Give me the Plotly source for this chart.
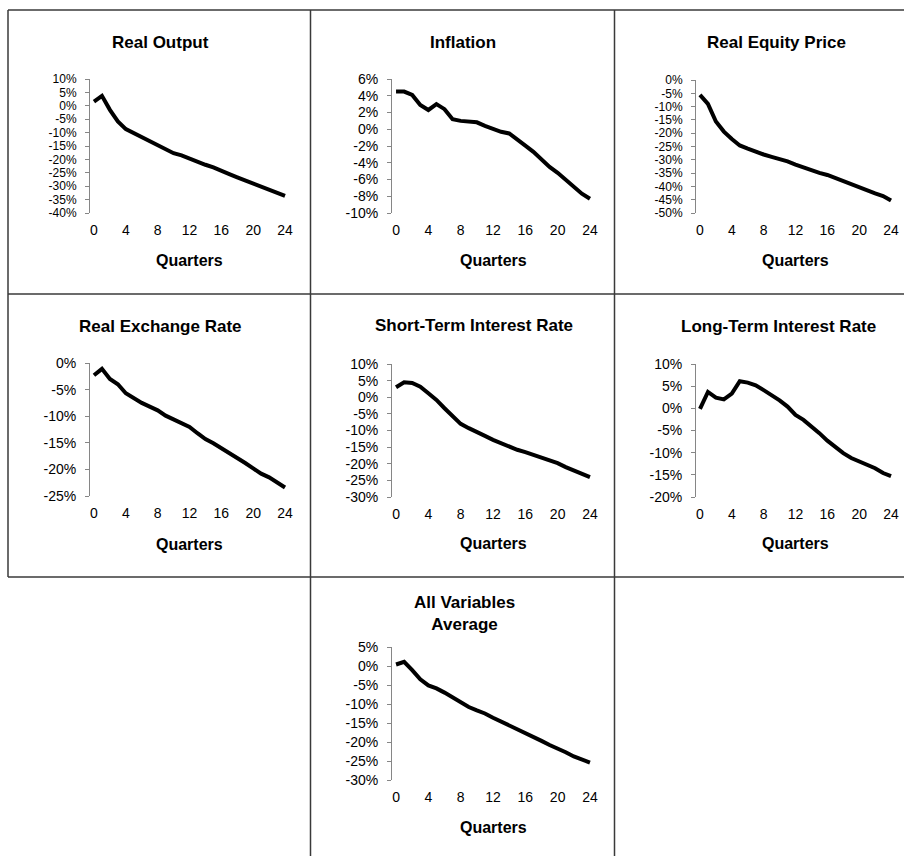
import plotly.graph_objects as go

# ---------------- data ----------------
quarters = list(range(25))
x_tick_vals = [0, 4, 8, 12, 16, 20, 24]
x_tick_labels = ["0", "4", "8", "12", "16", "20", "24"]
boundary_ticks = [-0.5, 3.5, 7.5, 11.5, 15.5, 19.5, 23.5, 24.5]

titles = ["Real Output", "Inflation", "Real Equity Price",
          "Real Exchange Rate", "Short-Term Interest Rate", "Long-Term Interest Rate",
          "All Variables<br>Average"]

real_output = [1.6, 3.7, -1.5, -5.8, -8.7, -10.2, -11.7, -13.3, -14.8, -16.4, -17.7, -18.5, -19.8,
               -21.0, -22.0, -23.0, -24.1, -25.5, -26.7, -27.9, -28.9, -30.1, -31.3, -32.3, -33.6]
inflation = [4.5, 4.5, 4.1, 2.9, 2.3, 3.0, 2.4, 1.2, 1.0, 0.87, 0.83, 0.4, 0.0,
             -0.3, -0.5, -1.3, -1.95, -2.7, -3.6, -4.5, -5.2, -6.0, -6.9, -7.7, -8.3]
real_equity = [-5.6, -9.0, -15.6, -19.4, -22.2, -24.6, -25.8, -27.0, -28.0, -28.9, -29.7, -30.6, -31.8,
               -32.9, -34.0, -34.9, -35.7, -36.9, -38.1, -39.3, -40.2, -41.4, -42.6, -43.6, -45.3]
real_exchange = [-2.3, -1.1, -3.0, -4.0, -5.7, -6.7, -7.5, -8.2, -8.9, -9.9, -10.6, -11.1, -12.0,
                 -13.2, -14.3, -15.1, -16.0, -17.0, -17.7, -18.8, -19.8, -20.8, -21.5, -22.5, -23.4]
short_rate = [3.0, 4.5, 4.3, 3.2, 1.2, -0.8, -3.3, -5.8, -8.0, -9.3, -10.3, -11.6, -12.8,
              -13.9, -15.0, -15.8, -16.5, -17.3, -18.2, -19.0, -19.8, -21.0, -22.0, -23.0, -24.0]
long_rate = [-0.1, 3.7, 2.4, 2.0, 3.3, 6.1, 5.8, 5.2, 4.1, 3.0, 1.8, 0.4, -1.5,
             -2.6, -4.0, -5.6, -7.3, -8.8, -10.1, -11.2, -12.0, -12.6, -13.5, -14.6, -15.3]
all_average = [0.4, 1.1, -1.1, -3.5, -5.1, -5.9, -7.0, -8.3, -9.6, -10.8, -11.7, -12.5, -13.6,
               -14.6, -15.5, -16.5, -17.5, -18.7, -19.7, -20.8, -21.7, -22.7, -23.8, -24.6, -25.4]

series = [real_output, inflation, real_equity, real_exchange, short_rate, long_rate, all_average]

y_ticks_real_output = [10, 5, 0, -5, -10, -15, -20, -25, -30, -35, -40]
y_ticks_inflation = [6, 4, 2, 0, -2, -4, -6, -8, -10]
y_ticks_real_equity = [0, -5, -10, -15, -20, -25, -30, -35, -40, -45, -50]
y_ticks_real_exchange = [0, -5, -10, -15, -20, -25]
y_ticks_short_rate = [10, 5, 0, -5, -10, -15, -20, -25, -30]
y_ticks_long_rate = [10, 5, 0, -5, -10, -15, -20]
y_ticks_all_average = [5, 0, -5, -10, -15, -20, -25, -30]
y_ticks = [y_ticks_real_output, y_ticks_inflation, y_ticks_real_equity, y_ticks_real_exchange,
           y_ticks_short_rate, y_ticks_long_rate, y_ticks_all_average]

# ---------------- layout (pixel geometry) ----------------
W, H = 904, 856
# plot area: left, right, top, bottom ; title centre ; quarters row ; y tick font size
panels = [
    dict(l=90, r=289, t=79, b=213, tx=160, ty=42, qy=260, yfs=12),
    dict(l=392, r=594, t=79, b=213, tx=463, ty=42, qy=260, yfs=14),
    dict(l=696, r=895, t=80, b=213, tx=776, ty=43, qy=260, yfs=12),
    dict(l=90, r=289, t=363, b=496, tx=160, ty=326, qy=544, yfs=14),
    dict(l=392, r=594, t=364, b=497, tx=474, ty=325, qy=543, yfs=14),
    dict(l=696, r=895, t=364, b=497, tx=778, ty=326, qy=543, yfs=14),
    dict(l=392, r=594, t=647, b=780, tx=464, ty=613, qy=827, yfs=14),
]

FONT = "Liberation Sans, Arial, sans-serif"
AXIS_GRAY = "#868686"

fig = go.Figure()
layout = dict(
    template="none",
    width=W, height=H, autosize=False,
    margin=dict(l=0, r=0, t=0, b=0, pad=0, autoexpand=False),
    paper_bgcolor="white", plot_bgcolor="white", showlegend=False,
    font=dict(family=FONT, size=14, color="black"),
)
annotations = []

def px(x):
    return x / W

def py(y):
    return 1 - y / H

for k, (p, ys, yt, ttl) in enumerate(zip(panels, series, y_ticks, titles)):
    xa = 2 * k + 1
    xb = 2 * k + 2
    ya = k + 1
    xname = "x" if xa == 1 else f"x{xa}"
    yname = "y" if ya == 1 else f"y{ya}"
    fig.add_trace(go.Scatter(x=quarters, y=ys, mode="lines",
                             line=dict(color="black", width=4),
                             xaxis=xname, yaxis=yname, hoverinfo="skip"))
    ymin, ymax = min(yt), max(yt)
    dom_y = [py(p["b"]), py(p["t"])]
    layout[f"xaxis{xa}"] = dict(
        domain=[px(p["l"]), px(p["r"])], anchor=yname, range=[-0.5, 24.5],
        showline=False, showgrid=False, zeroline=False, automargin=False,
        tickvals=x_tick_vals, ticktext=x_tick_labels,
        ticks="outside", ticklen=4, tickcolor="rgba(0,0,0,0)",
        tickfont=dict(size=14, family=FONT, color="black"),
    )
    zero_pos = dom_y[0] + (0 - ymin) / (ymax - ymin) * (dom_y[1] - dom_y[0])
    layout[f"xaxis{xb}"] = dict(
        overlaying=xname, anchor="free", position=zero_pos, range=[-0.5, 24.5],
        showline=True, linecolor=AXIS_GRAY, linewidth=1, automargin=False,
        showgrid=False, zeroline=False,
        tickvals=boundary_ticks, showticklabels=False,
        ticks="outside", ticklen=4, tickcolor=AXIS_GRAY, tickwidth=1,
    )
    layout[f"yaxis{ya}"] = dict(
        domain=dom_y, anchor=xname, range=[ymin, ymax],
        showline=True, linecolor=AXIS_GRAY, linewidth=1, automargin=False,
        showgrid=False, zeroline=False,
        tickvals=yt, ticktext=[f"{v}%" for v in yt],
        ticks="outside", ticklen=4, tickcolor=AXIS_GRAY, tickwidth=1,
        ticklabelstandoff=6,
        tickfont=dict(size=p["yfs"], family=FONT, color="black"),
    )
    annotations.append(dict(text=f"<b>{ttl}</b>", x=px(p["tx"]), y=py(p["ty"]),
                            xref="paper", yref="paper", xanchor="center", yanchor="middle",
                            showarrow=False, font=dict(size=17, family=FONT, color="black")))
    annotations.append(dict(text="<b>Quarters</b>", x=px((p["l"] + p["r"]) / 2), y=py(p["qy"]),
                            xref="paper", yref="paper", xanchor="center", yanchor="middle",
                            showarrow=False, font=dict(size=16, family=FONT, color="black")))

# cell borders
BORDER = "#3a3a3a"
border_lines = [
    (8, 10, 904, 10), (8, 294, 904, 294), (8, 577, 904, 577),
    (8, 10, 8, 577), (310.5, 10, 310.5, 856), (614.5, 10, 614.5, 856),
]
shapes = []
for x0, y0, x1, y1 in border_lines:
    shapes.append(dict(type="line", xref="paper", yref="paper",
                       x0=px(x0), y0=py(y0), x1=px(x1), y1=py(y1),
                       line=dict(color=BORDER, width=1.5)))

layout["annotations"] = annotations
layout["shapes"] = shapes
fig.update_layout(**layout)
fig.write_html("out.html")
